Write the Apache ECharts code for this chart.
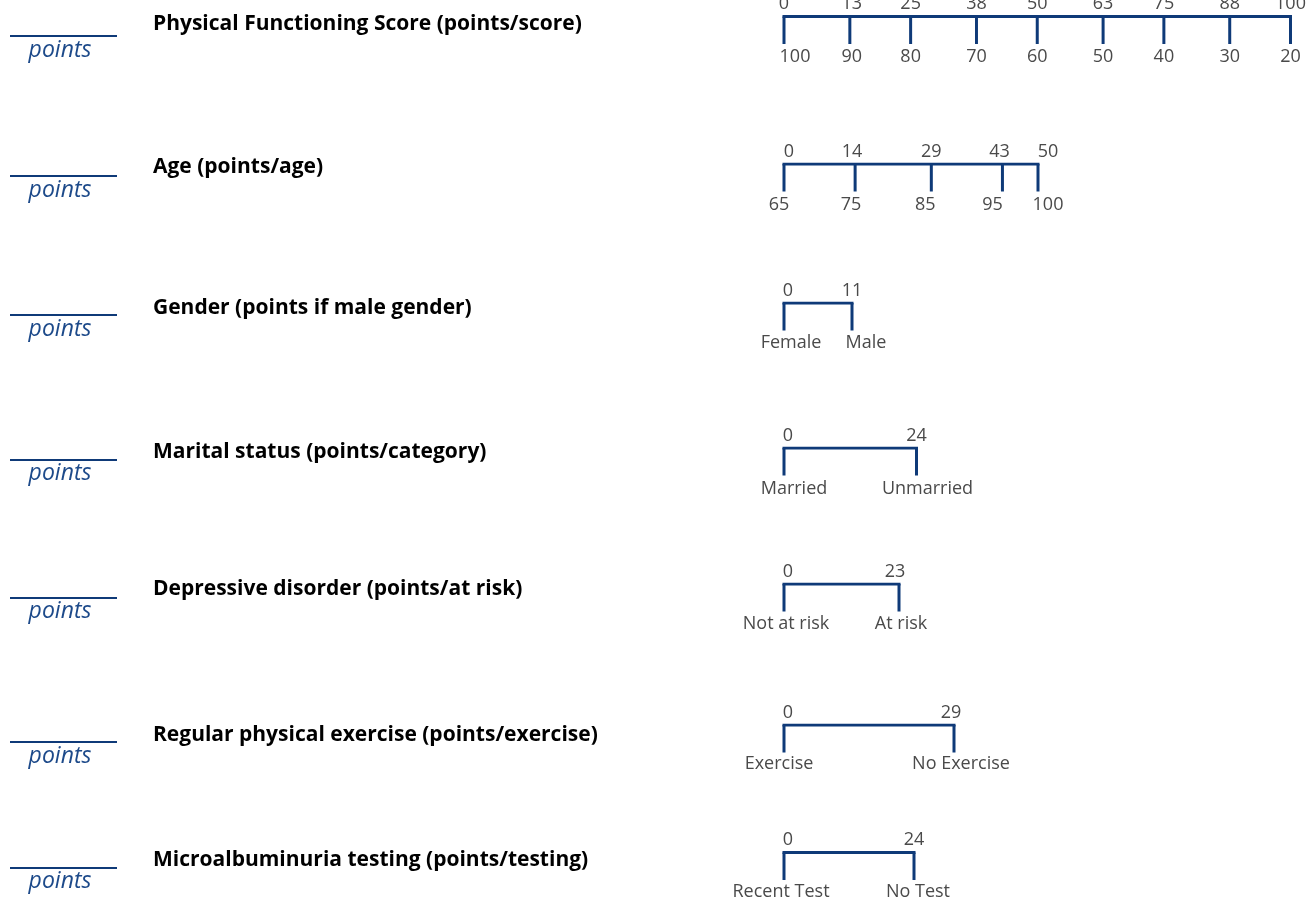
<!DOCTYPE html>
<html>
<head>
<meta charset="utf-8">
<script src="https://cdn.jsdelivr.net/npm/echarts@6/dist/echarts.min.js"></script>
<style>
html,body{margin:0;padding:0;background:#fff;}
#chart{width:1312px;height:899px;}
</style>
</head>
<body>
<div id="chart"></div>
<script>
// ---- data ----
const titles = [
  "Physical Functioning Score (points/score)",
  "Age (points/age)",
  "Gender (points if male gender)",
  "Marital status (points/category)",
  "Depressive disorder (points/at risk)",
  "Regular physical exercise (points/exercise)",
  "Microalbuminuria testing (points/testing)"
];
const pfPoints = [0, 13, 25, 38, 50, 63, 75, 88, 100];
const pfLabels = ["100", "90", "80", "70", "60", "50", "40", "30", "20"];
const agePoints = [0, 14, 29, 43, 50];
const ageLabels = ["65", "75", "85", "95", "100"];
const genderPoints = [0, 11];
const genderLabels = ["Female", "Male"];
const maritalPoints = [0, 24];
const maritalLabels = ["Married", "Unmarried"];
const depressionPoints = [0, 23];
const depressionLabels = ["Not at risk", "At risk"];
const exercisePoints = [0, 29];
const exerciseLabels = ["Exercise", "No Exercise"];
const testingPoints = [0, 24];
const testingLabels = ["Recent Test", "No Test"];
const unitLabel = "points";

const rowPoints = [pfPoints, agePoints, genderPoints, maritalPoints, depressionPoints, exercisePoints, testingPoints];
const rowLabels = [pfLabels, ageLabels, genderLabels, maritalLabels, depressionLabels, exerciseLabels, testingLabels];

// ---- layout (pixels) ----
const scaleLeft = 784;
const scaleRight = [1290.5, 1038, 852, 916.5, 899, 954, 914];
const scaleLineY = [16.5, 164, 303, 448, 584, 725, 852.5];
const tickLen = 27.5;
const topGap = 12.5;
const bottomGap = [13, 13, 12, 13, 12, 11, 11.5];
const titleY = [24, 167, 308, 452, 589, 735, 860];
const unitLineY = [36, 176, 315, 460, 598, 742, 868];
const unitTextY = [50, 190, 329, 473, 611, 756, 881];
// small horizontal nudges of the printed labels relative to their ticks
const topNudge = [
  [0, 2, 0, 0, 0, 0, 0, 0, 0],
  [5, -3, 0, -3, 10],
  [4, 0], [4, 0], [4, -4], [4, -3], [4, 0]
];
const bottomNudge = [
  [11, 2, 0, 0, 0, 0, 0, 0, 0],
  [-5, -4, -6, -10, 10],
  [7, 14], [10, 11], [2, 2], [-5, 7], [-3, 4]
];

const NAVY = "#0f3a78";
const BLUE = "#1d4a8a";
const GREY = "#4a4a4a";
const FONT = "'Open Sans', 'Noto Sans', sans-serif";

const chart = echarts.init(document.getElementById('chart'), null, {renderer: 'canvas'});

const grids = [], xAxes = [], yAxes = [], series = [], graphics = [];

rowPoints.forEach((pts, i) => {
  const labels = rowLabels[i];
  grids.push({left: scaleLeft, top: scaleLineY[i], width: scaleRight[i] - scaleLeft, height: tickLen});
  xAxes.push({type: 'value', gridIndex: i, min: 0, max: pts[pts.length - 1], show: false});
  yAxes.push({type: 'value', gridIndex: i, min: 0, max: 1, show: false});
  series.push({
    type: 'line', xAxisIndex: i, yAxisIndex: i, silent: true, symbol: 'none',
    data: pts.map(p => [p, 1]),
    lineStyle: {color: NAVY, width: 3, cap: 'square'},
    animation: false
  });
  series.push({
    type: 'custom', xAxisIndex: i, yAxisIndex: i, silent: true, animation: false,
    data: pts.map(p => [p]),
    renderItem: function (params, api) {
      const v = api.value(0);
      const top = api.coord([v, 1]);
      const bot = api.coord([v, 0]);
      const k = params.dataIndex;
      return {
        type: 'group',
        children: [
          {type: 'line', shape: {x1: top[0], y1: top[1], x2: bot[0], y2: bot[1]},
           style: {stroke: NAVY, lineWidth: 3}},
          {type: 'text', x: top[0] + topNudge[i][k], y: top[1] - topGap,
           style: {text: String(pts[k]), textAlign: 'center', textVerticalAlign: 'middle',
                   fill: GREY, font: "18px " + FONT}},
          {type: 'text', x: bot[0] + bottomNudge[i][k], y: bot[1] + bottomGap[i],
           style: {text: labels[k], textAlign: 'center', textVerticalAlign: 'middle',
                   fill: GREY, font: "18px " + FONT}}
        ]
      };
    }
  });
  graphics.push({
    type: 'text', x: 153, y: titleY[i], silent: true,
    style: {text: titles[i], fill: '#000', font: "bold 21px " + FONT,
            textAlign: 'left', textVerticalAlign: 'middle'}
  });
  graphics.push({
    type: 'line', silent: true,
    shape: {x1: 10, y1: unitLineY[i], x2: 117, y2: unitLineY[i]},
    style: {stroke: NAVY, lineWidth: 2}
  });
  graphics.push({
    type: 'text', silent: true, x: 60, y: unitTextY[i],
    style: {text: unitLabel, fill: BLUE, font: "italic 23px " + FONT,
            textAlign: 'center', textVerticalAlign: 'middle'}
  });
});

chart.setOption({
  animation: false,
  grid: grids,
  xAxis: xAxes,
  yAxis: yAxes,
  series: series,
  graphic: graphics
});
</script>
</body>
</html>
